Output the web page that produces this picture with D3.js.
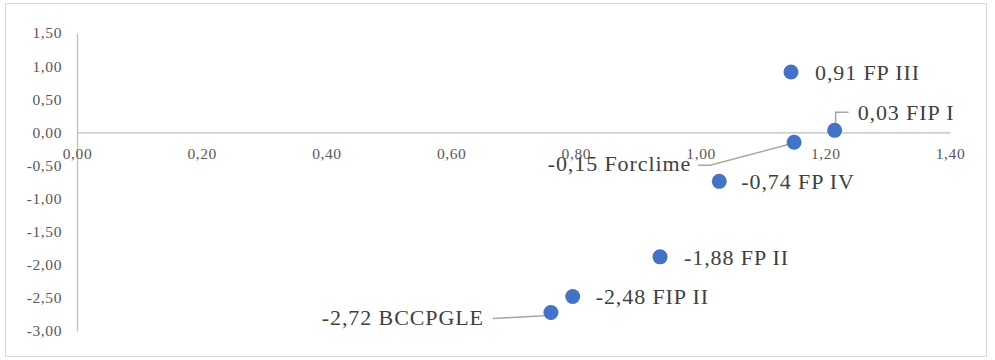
<!DOCTYPE html>
<html>
<head>
<meta charset="utf-8">
<script src="https://cdn.jsdelivr.net/npm/d3@7"></script>
<style>
  html, body { margin: 0; padding: 0; background: #fff; }
  svg { display: block; }
</style>
</head>
<body>
<svg id="chart" width="995" height="360"></svg>
<script>
// Programme names and their coordinates
const names = ["FP III", "FIP I", "Forclime", "FP IV", "FP II", "FIP II", "BCCPGLE"];
const xValues = [1.145, 1.215, 1.15, 1.03, 0.935, 0.795, 0.76];
const yValues = [0.91, 0.03, -0.15, -0.74, -1.88, -2.48, -2.72];

// Axis ticks
const xTicks = [0, 0.2, 0.4, 0.6, 0.8, 1.0, 1.2, 1.4];
const yTicks = [1.5, 1.0, 0.5, 0.0, -0.5, -1.0, -1.5, -2.0, -2.5, -3.0];

// Label placement relative to each point (pixels); leader = draw a connector line
const labelLayout = [
  { dx: 24, dy: 0, anchor: "start" },
  { dx: 23, dy: -18, anchor: "start", leader: "elbowUp" },
  { dx: -103, dy: 21, anchor: "end", leader: "elbowLeft" },
  { dx: 22, dy: 0, anchor: "start" },
  { dx: 24, dy: 0, anchor: "start" },
  { dx: 23, dy: 0, anchor: "start" },
  { dx: -67, dy: 5, anchor: "end", leader: "straight" }
];

const fmt = v => d3.format(".2f")(v).replace(".", ",").replace("−", "-");

const svg = d3.select("#chart");
const font = "'Liberation Serif', 'DejaVu Serif', serif";

// Chart frame
svg.append("rect")
  .attr("x", 5.5).attr("y", 3.5)
  .attr("width", 981).attr("height", 353)
  .attr("fill", "#fff").attr("stroke", "#d9d9d9").attr("stroke-width", 1);

const x = d3.scaleLinear().domain([0, 1.4]).range([77, 950]);
const y = d3.scaleLinear().domain([-3, 1.5]).range([331, 33]);

// Y axis
const yAxis = svg.append("g")
  .attr("transform", `translate(${x(0)},0)`)
  .call(d3.axisLeft(y).tickValues(yTicks).tickSize(0).tickPadding(15).tickFormat(fmt));
yAxis.select(".domain").attr("stroke", "#bfbfbf").attr("stroke-width", 1.3);
yAxis.selectAll("text")
  .attr("font-family", font).attr("font-size", 15.5).attr("letter-spacing", 0.6).attr("fill", "#595959");

// X axis crossing at y = 0
const xAxis = svg.append("g")
  .attr("transform", `translate(0,${y(0)})`)
  .call(d3.axisBottom(x).tickValues(xTicks).tickSize(0).tickPadding(16).tickFormat(fmt));
xAxis.select(".domain").attr("stroke", "#bfbfbf").attr("stroke-width", 1.3);
xAxis.selectAll("text")
  .attr("font-family", font).attr("font-size", 15.5).attr("letter-spacing", 0.6).attr("fill", "#595959");

const points = names.map((n, i) => ({ name: n, xv: xValues[i], yv: yValues[i], layout: labelLayout[i] }));

// Leader lines
const leaders = svg.append("g").attr("fill", "none").attr("stroke", "#a6a6a6").attr("stroke-width", 1.5);
points.forEach(p => {
  const px = x(p.xv), py = y(p.yv), L = p.layout;
  if (!L.leader) return;
  let path;
  if (L.leader === "elbowUp") {
    path = `M${px + 1},${py - 3} L${px + 1},${py + L.dy} L${px + L.dx - 9},${py + L.dy}`;
  } else if (L.leader === "elbowLeft") {
    path = `M${px - 1},${py + 1} L${px - 84},${py + L.dy + 2} L${px + L.dx + 7},${py + L.dy + 2}`;
  } else {
    path = `M${px - 3},${py + 3} L${px + L.dx + 9},${py + L.dy + 1}`;
  }
  leaders.append("path").attr("d", path);
});

// Points
svg.append("g").selectAll("circle")
  .data(points)
  .join("circle")
  .attr("cx", d => x(d.xv))
  .attr("cy", d => y(d.yv))
  .attr("r", 7.5)
  .attr("fill", "#4472c4");

// Data labels
svg.append("g").selectAll("text")
  .data(points)
  .join("text")
  .attr("x", d => x(d.xv) + d.layout.dx)
  .attr("y", d => y(d.yv) + d.layout.dy)
  .attr("dy", "0.35em")
  .attr("text-anchor", d => d.layout.anchor)
  .attr("font-family", font)
  .attr("font-size", 22)
  .attr("letter-spacing", 0.9)
  .attr("fill", "#404040")
  .text(d => `${fmt(d.yv)} ${d.name}`);
</script>
</body>
</html>
